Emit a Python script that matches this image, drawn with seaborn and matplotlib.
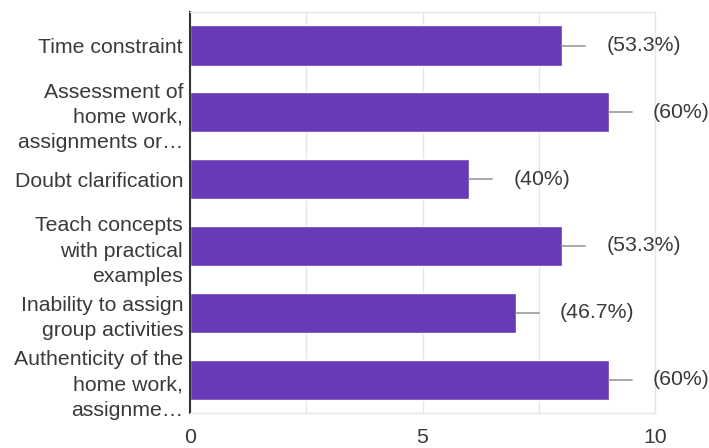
import matplotlib
matplotlib.use("Agg")
import matplotlib.pyplot as plt
import seaborn as sns

# data
categories = [
    "Time constraint",
    "Assessment of\nhome work,\nassignments or\u2026",
    "Doubt clarification",
    "Teach concepts\nwith practical\nexamples",
    "Inability to assign\ngroup activities",
    "Authenticity of the\nhome work,\nassignme\u2026",
]
counts = [8, 9, 6, 8, 7, 9]
pct_labels = ["(53.3%)", "(60%)", "(40%)", "(53.3%)", "(46.7%)", "(60%)"]
xtick_vals = [0, 2.5, 5, 7.5, 10]
xtick_labels = ["0", "", "5", "", "10"]

sns.set_style("white")
plt.rcParams["font.family"] = ["Liberation Sans", "DejaVu Sans"]

fig = plt.figure(figsize=(7.09, 4.48), dpi=100)
ax = fig.add_axes([0.268, 0.078, 0.656, 0.895])

sns.barplot(x=counts, y=categories, orient="h", color="#673ab7",
            saturation=1, width=0.6, ax=ax)

# leader lines and percentage labels
for i, (c, lab) in enumerate(zip(counts, pct_labels)):
    ax.plot([c, c + 0.5], [i, i], color="#999999", lw=1.2, clip_on=False)
    ax.text(c + 0.95, i, lab, va="center", ha="left", fontsize=15.3,
            color="#3a3a3a", clip_on=False)

ax.set_xlim(0, 10)
ax.set_ylim(5.5, -0.5)
ax.set_xticks(xtick_vals)
ax.set_xticklabels(xtick_labels)
ax.grid(axis="x", color="#e6e6e6", lw=1)
ax.set_axisbelow(True)
ax.tick_params(axis="x", length=0, pad=11, labelsize=15.3, labelcolor="#3a3a3a")
ax.tick_params(axis="y", length=0, pad=5, labelsize=15.3, labelcolor="#3a3a3a")
for t in ax.get_yticklabels():
    t.set_linespacing(1.42)
ax.set_xlabel("")
ax.set_ylabel("")

for s in ["top", "right", "bottom"]:
    ax.spines[s].set_color("#e6e6e6")
    ax.spines[s].set_linewidth(1)
ax.spines["left"].set_color("#333333")
ax.spines["left"].set_linewidth(1.5)

fig.savefig("out.png", dpi=100)
